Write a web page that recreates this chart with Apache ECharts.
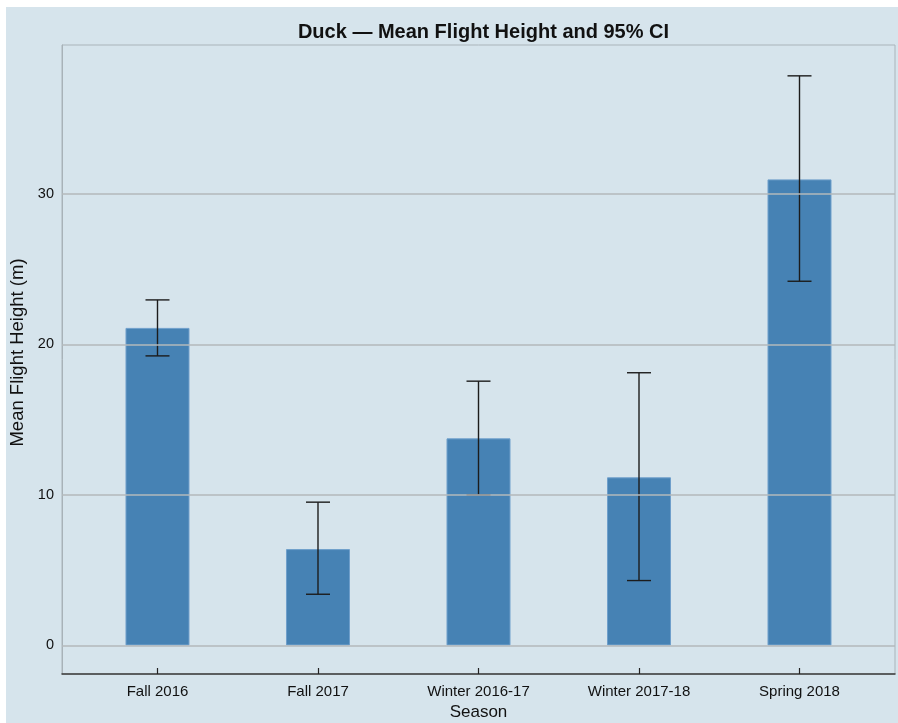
<!DOCTYPE html>
<html>
<head>
<meta charset="utf-8">
<script src="https://cdn.jsdelivr.net/npm/echarts@6/dist/echarts.min.js"></script>
<style>
  html, body { margin: 0; padding: 0; background: #ffffff; }
  #chart { position: absolute; left: 6px; top: 7px; width: 892px; height: 716px; }
</style>
</head>
<body>
<div id="chart"></div>
<script>
// Seasons and mean flight height (m) with 95% confidence limits
const seasons = ['Fall 2016', 'Fall 2017', 'Winter 2016-17', 'Winter 2017-18', 'Spring 2018'];
const meanHeight = [21.1, 6.4, 13.76, 11.17, 30.97];
const ciLower = [19.24, 3.4, 10.0, 4.31, 24.2];
const ciUpper = [22.96, 9.52, 17.56, 18.12, 37.85];
const yTicks = [0, 10, 20, 30];

const positions = seasons.map((_, i) => i);
const barData = positions.map(i => [i, meanHeight[i]]);
const errData = positions.map(i => [i, ciLower[i], ciUpper[i]]);

const font = '"Liberation Sans", Arial, Helvetica, sans-serif';
const chart = echarts.init(document.getElementById('chart'));

chart.setOption({
  backgroundColor: '#d6e4ec',
  animation: false,
  title: {
    text: 'Duck \u2014 Mean Flight Height and 95% CI',
    left: 472.5,
    textAlign: 'center',
    top: 10,
    textStyle: { fontFamily: font, fontSize: 20, fontWeight: 'bold', color: '#111' }
  },
  grid: {
    left: 56, right: 3, top: 38, bottom: 49,
    outerBoundsMode: 'none',
    containLabel: false,
    show: true, borderColor: '#aab4ba', borderWidth: 1, backgroundColor: 'transparent'
  },
  xAxis: {
    type: 'value',
    min: -0.595,
    max: 4.595,
    name: 'Season',
    nameLocation: 'middle',
    nameGap: 26,
    nameTextStyle: { fontFamily: font, fontSize: 17, color: '#111' },
    splitLine: { show: false },
    axisLine: { show: true, onZero: false, lineStyle: { color: '#3a3a3a', width: 1.5 } },
    axisTick: { show: true, inside: true, length: 6, customValues: positions,
                lineStyle: { color: '#222', width: 1.2 } },
    axisLabel: {
      customValues: positions,
      formatter: v => seasons[Math.round(v)],
      margin: 10,
      fontFamily: font, fontSize: 15, color: '#111'
    }
  },
  yAxis: {
    type: 'value',
    min: -1.9,
    max: 39.9,
    name: 'Mean Flight Height (m)',
    nameLocation: 'middle',
    nameGap: 26,
    nameTextStyle: { fontFamily: font, fontSize: 18.5, color: '#111', padding: [0, 0, 0, 14] },
    splitLine: { show: false },
    axisLine: { show: true, onZero: false, lineStyle: { color: '#a8b2b8', width: 1 } },
    axisTick: { show: false },
    axisLabel: {
      customValues: yTicks,
      margin: 8,
      fontFamily: font, fontSize: 14.5, color: '#111'
    }
  },
  series: [
    {
      // horizontal reference lines at the labelled heights
      type: 'line',
      data: [],
      z: 1,
      silent: true,
      markLine: {
        symbol: 'none',
        silent: true,
        label: { show: false },
        lineStyle: { color: '#b3b8bb', width: 1.5, type: 'solid' },
        data: yTicks.map(v => ({ yAxis: v }))
      }
    },
    {
      type: 'bar',
      data: barData,
      barWidth: 64,
      z: 2,
      itemStyle: { color: '#4682b4', borderColor: '#6f9fcb', borderWidth: 1 }
    },
    {
      type: 'custom',
      z: 3,
      data: errData,
      renderItem: function (params, api) {
        const x = api.value(0);
        const lo = api.coord([x, api.value(1)]);
        const hi = api.coord([x, api.value(2)]);
        const half = 12;
        const style = { stroke: '#1c1c1c', lineWidth: 1.4 };
        return {
          type: 'group',
          children: [
            { type: 'line', shape: { x1: lo[0], y1: lo[1], x2: hi[0], y2: hi[1] }, style },
            { type: 'line', shape: { x1: hi[0] - half, y1: hi[1], x2: hi[0] + half, y2: hi[1] }, style },
            { type: 'line', shape: { x1: lo[0] - half, y1: lo[1], x2: lo[0] + half, y2: lo[1] }, style }
          ]
        };
      }
    }
  ]
});
</script>
</body>
</html>
